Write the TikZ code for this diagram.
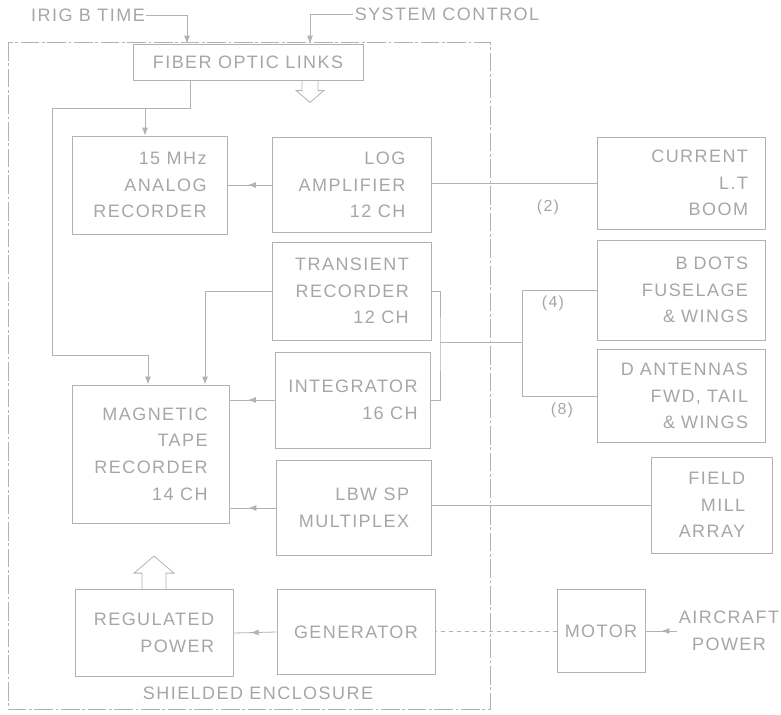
\documentclass[tikz,border=0pt]{standalone}
\usepackage{fontspec}
\setmainfont{Liberation Sans}[LetterSpace=8]
\usepackage{tikz}
\usetikzlibrary{arrows.meta,calc,positioning,decorations.markings}
\definecolor{Faded}{HTML}{A6A6A6}
\definecolor{Wire}{HTML}{B2B2B2}
\newcommand{\boxfont}{\fontsize{13.5}{20}\selectfont}

\begin{document}
\begin{tikzpicture}[x=.75pt,y=-.75pt,
  blk/.style={draw=Wire,line width=.6pt,text=Faded,align=right,font=\boxfont},
  wire/.style={draw=Wire,line width=.6pt},
  headin/.style={-{Latex[length=6pt,width=4.5pt]}},
  midarr/.style={postaction={decorate},decoration={markings,mark=at position #1 with {\arrow{Latex[length=6pt,width=4.5pt]}}}},
  midarr/.default=.5,
  lbl/.style={text=Faded,font=\boxfont,inner sep=1pt},
  cnt/.style={text=Faded,font=\fontsize{12}{14}\selectfont,inner sep=1pt}]
  \useasboundingbox (0,0) rectangle (781,714);
  % enclosure and outside labels
  \draw[wire,dash pattern=on 14pt off 2pt on 2pt off 2pt] (8,42) rectangle (490,709);
  \node[lbl] (encl) at (258,693) {SHIELDED ENCLOSURE};
  \node[lbl] (irig) at (88,15) {IRIG B TIME};
  \node[lbl] (sysctl) at (447,14) {SYSTEM CONTROL};
  % instruments inside
  \node[blk,align=center,minimum width=172.5pt,minimum height=27pt] (fiber) at (248,62) {FIBER OPTIC LINKS};
  \node[blk,minimum width=116.25pt,minimum height=73.5pt] (analog) at (150,185) {15 MHz\\ANALOG\\RECORDER};
  \node[blk,minimum width=119.25pt,minimum height=71.25pt] (logamp) at (352,185) {LOG\\AMPLIFIER\\12 CH};
  \node[blk,minimum width=119.25pt,minimum height=73.5pt] (transient) at (352,291) {TRANSIENT\\RECORDER\\12 CH};
  \node[blk,minimum width=116.25pt,minimum height=72pt] (integ) at (353,400) {INTEGRATOR\\16 CH};
  \node[blk,minimum width=116.25pt,minimum height=71.25pt] (mux) at (354,508) {LBW SP\\MULTIPLEX};
  \node[blk,minimum width=117.75pt,minimum height=103.5pt] (magtape) at (151,454) {MAGNETIC\\TAPE\\RECORDER\\14 CH};
  \node[blk,minimum width=118.5pt,minimum height=65.25pt] (regpow) at (154,633) {REGULATED\\POWER};
  \node[blk,minimum width=118.5pt,minimum height=63.75pt] (gen) at (356,632) {GENERATOR};
  % sensors outside
  \node[blk,text width=100.5pt,inner xsep=12.75pt,minimum height=69pt] (current) at (681,183) {CURRENT\\L.T\\BOOM};
  \node[blk,text width=100.5pt,inner xsep=12.75pt,minimum height=75pt] (bdots) at (681,290) {B DOTS\\FUSELAGE\\\& WINGS};
  \node[blk,text width=100.5pt,inner xsep=12.75pt,minimum height=69.75pt] (dant) at (681,396) {D ANTENNAS\\FWD, TAIL\\\& WINGS};
  \node[blk,minimum width=90.75pt,minimum height=72pt] (field) at (712,505) {FIELD\\MILL\\ARRAY};
  \node[blk,minimum width=66pt,minimum height=62.25pt] (motor) at (601,631) {MOTOR};
  \node[lbl,align=center] (acpower) at (729,631) {AIRCRAFT\\POWER};
  \node[cnt] (n2) at (548,207) {(2)};
  \node[cnt] (n4) at (553,303) {(4)};
  \node[cnt] (n8) at (562,410) {(8)};
  \coordinate (tb) at (52,108);
  \coordinate (mb) at (52,355);
  \coordinate (jn) at (522,342);
  \coordinate (bk) at (440,342);
  % timing and control
  \draw[wire,headin] (irig.east) -| (187,0 |- fiber.north);
  \draw[wire,headin] (sysctl.west) -| (310,0 |- fiber.north);
  \draw[wire] (190,0 |- fiber.south) |- (tb) -- (mb);
  \draw[wire,headin] (145,0 |- tb) -- (145,0 |- analog.north);
  \draw[wire,headin] (mb) -| (148,0 |- magtape.north);
  \draw[wire] ($(310,0 |- fiber.south)+(-8,0)$) -- ++(0,10) -- ++(-6,0) -- ++(14,12) -- ++(14,-12) -- ++(-6,0) -- ++(0,-10);
  % data paths
  \draw[wire,midarr=.55] (logamp.west) -- (analog.east);
  \draw[wire,headin] (transient.west) -| (205,0 |- magtape.north);
  \draw[wire,midarr=.6] (integ.west) -- (integ.west -| magtape.east);
  \draw[wire,midarr=.6] (mux.west) -- (mux.west -| magtape.east);
  \draw[wire] (current.west) -- (current.west -| logamp.east);
  \draw[wire] (bdots.west) -| (jn) -- (bk);
  \draw[wire] (dant.west) -| (jn);
  \draw[wire] (transient.east) -| (bk) |- (integ.east);
  \draw[wire] (field.west) -- (field.west -| mux.east);
  % power
  \draw[wire,midarr=.6] (gen.west) -- (regpow.east);
  \draw[wire] ($(regpow.north)+(-12,0)$) -- ++(0,-16) -- ++(-8,0) -- ++(20,-17) -- ++(20,17) -- ++(-8,0) -- ++(0,16);
  \draw[wire,dashed] (motor.west) -- (motor.west -| gen.east);
  \draw[wire,midarr] (acpower.west) -- (acpower.west -| motor.east);
\end{tikzpicture}
\end{document}
